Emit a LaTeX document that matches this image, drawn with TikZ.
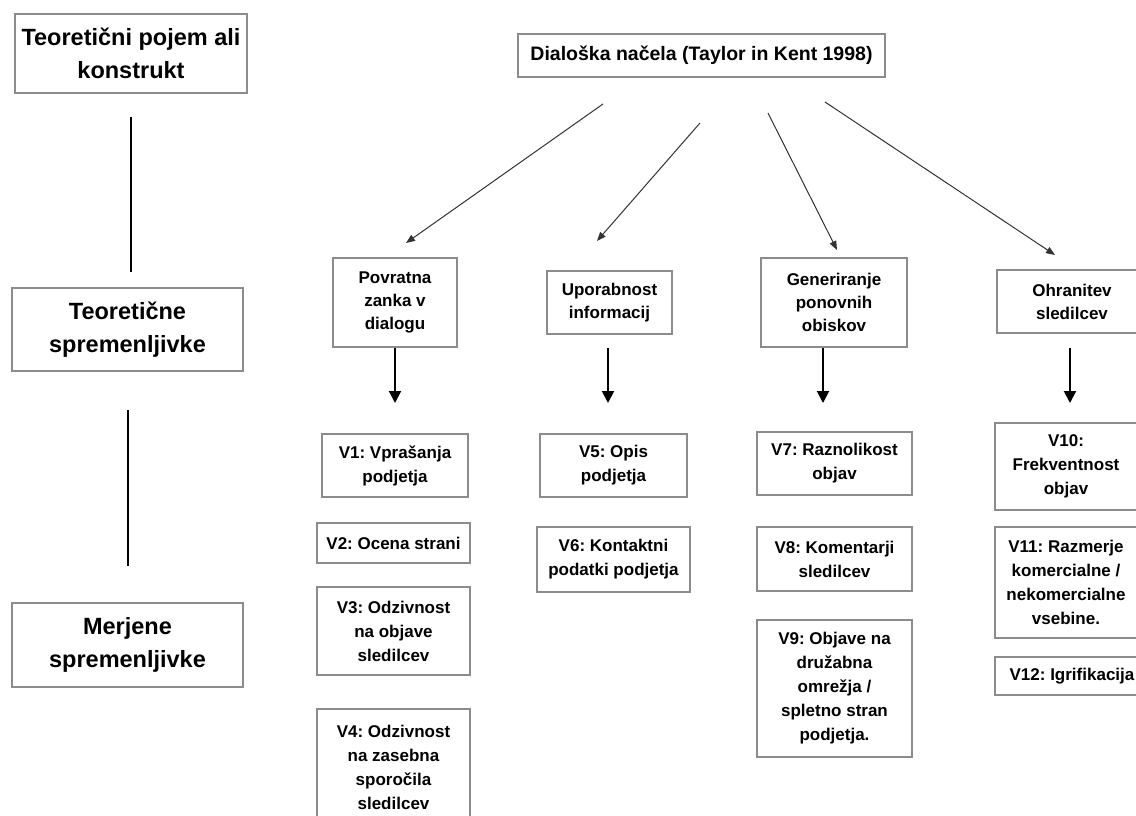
\documentclass[tikz,border=0pt]{standalone}
\usepackage{fontspec}
\setmainfont{Liberation Sans}
\usetikzlibrary{arrows.meta,calc}
\frenchspacing

\begin{document}
\begin{tikzpicture}[x=1pt, y=1pt, yscale=-1, inner sep=0pt, outer sep=0pt,
  box/.style={draw=boxgray, line width=1.5pt, align=center, font=\bfseries\fontsize{17}{24}\selectfont},
  bigbox/.style={box, font=\bfseries\fontsize{23.5}{33}\selectfont},
  toparr/.style={draw=arrgray, line width=1pt, -{Triangle[length=9pt,width=7pt]}},
  downarr/.style={line width=2pt, -{Triangle[length=12pt,width=12pt]}},
  vline/.style={line width=2pt}]
\definecolor{boxgray}{rgb}{0.55,0.55,0.55}
\definecolor{arrgray}{rgb}{0.2,0.2,0.2}
\clip (0,0) rectangle (1136,816);
\fill[white] (0,0) rectangle (1136,816);
% left column
\node[bigbox, minimum width=232, minimum height=79] (konstrukt) at (131,53.5) {Teoretični pojem ali\\konstrukt};
\node[bigbox, minimum width=231, minimum height=83] (teor) at (127.5,329.5) {Teoretične\\spremenljivke};
\node[bigbox, minimum width=231, minimum height=84] (merj) at (127.5,645) {Merjene\\spremenljivke};
\draw[vline, shorten <=24pt, shorten >=16pt] (konstrukt.south) -- (konstrukt.south |- teor.north);
\draw[vline, shorten <=39pt, shorten >=37pt] (teor.south) -- (merj.north);
% top
\node[box, font=\bfseries\fontsize{19.5}{24}\selectfont, minimum width=367, minimum height=43] (nacela) at (701.5,55.5) {Dialoška načela (Taylor in Kent 1998)};
% principles
\node[box, font=\bfseries\fontsize{17}{23}\selectfont, minimum width=124, minimum height=89] (povr) at (395,302.5) {Povratna\\zanka v\\dialogu};
\node[box, font=\bfseries\fontsize{17}{23}\selectfont, minimum width=125, minimum height=63] (upor) at (609.5,302.5) {Uporabnost\\informacij};
\node[box, font=\bfseries\fontsize{17}{23}\selectfont, minimum width=146, minimum height=89] (gene) at (834,302.5) {Generiranje\\ponovnih\\obiskov};
\node[box, font=\bfseries\fontsize{17}{23}\selectfont, minimum width=150, minimum height=63] (ohra) at (1072,301.5) {Ohranitev\\sledilcev};
\coordinate (s1) at (603,104); \coordinate (e1) at (406,243);
\coordinate (s2) at (700,123); \coordinate (e2) at (597,241);
\coordinate (s3) at (768,113); \coordinate (e3) at (837,250);
\coordinate (s4) at (825,102); \coordinate (e4) at (1055,255);
\draw[toparr] (s1) -- (e1);
\draw[toparr] (s2) -- (e2);
\draw[toparr] (s3) -- (e3);
\draw[toparr] (s4) -- (e4);
% variables
\node[box, minimum width=146, minimum height=63] (v1) at (395,465.5) {V1: Vprašanja\\podjetja};
\node[box, minimum width=153, minimum height=40] (v2) at (393.5,543) {V2: Ocena strani};
\node[box, minimum width=153, minimum height=88] (v3) at (393.5,631) {V3: Odzivnost\\na objave\\sledilcev};
\node[box, minimum width=153, minimum height=117] (v4) at (393.5,767.5) {V4: Odzivnost\\na zasebna\\sporočila\\sledilcev};
\node[box, minimum width=147, minimum height=63] (v5) at (613.5,465.5) {V5: Opis\\podjetja};
\node[box, minimum width=153, minimum height=65] (v6) at (613.5,559.5) {V6: Kontaktni\\podatki podjetja};
\node[box, minimum width=155, minimum height=63] (v7) at (834.5,463.5) {V7: Raznolikost\\objav};
\node[box, minimum width=155, minimum height=64] (v8) at (834.5,559) {V8: Komentarji\\sledilcev};
\node[box, minimum width=155, minimum height=137] (v9) at (834.5,688.5) {V9: Objave na\\družabna\\omrežja /\\spletno stran\\podjetja.};
\node[box, minimum width=142, minimum height=87] (v10) at (1066,466.5) {V10:\\Frekventnost\\objav};
\node[box, minimum width=142, minimum height=111] (v11) at (1066,582.5) {V11: Razmerje\\komercialne /\\nekomercialne\\vsebine.};
\node[box, minimum width=154, minimum height=38] (v12) at (1072,676) {V12: Igrifikacija};
\draw[downarr, shorten <=1pt, shorten >=31pt] (povr.south) -- (povr.south |- v1.north);
\draw[downarr, shorten <=14pt, shorten >=31pt] ($(upor.south)+(-1.5,0)$) -- ($(upor.south |- v5.north)+(-1.5,0)$);
\draw[downarr, shorten <=1pt, shorten >=29pt] ($(gene.south)+(-11,0)$) -- ($(gene.south |- v7.north)+(-11,0)$);
\draw[downarr, shorten <=15pt, shorten >=20pt] ($(ohra.south)+(-2,0)$) -- ($(ohra.south |- v10.north)+(-2,0)$);
\end{tikzpicture}
\end{document}
